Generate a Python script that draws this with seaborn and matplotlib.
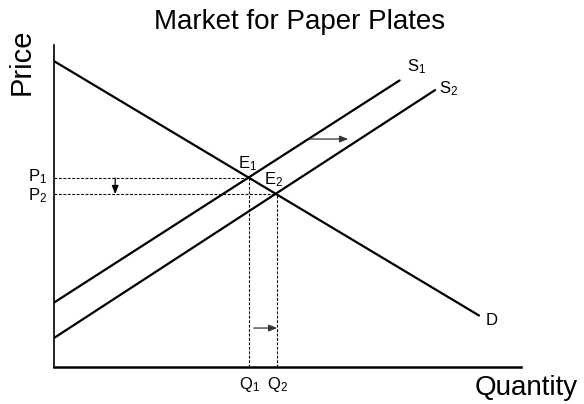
import matplotlib
matplotlib.use("Agg")
import matplotlib.pyplot as plt
import seaborn as sns
import pandas as pd

# curve end points (data units 0-100)
demand_x = [0, 91]
demand_y = [95, 16]
s1_x = [0, 74]
s1_y = [20, 89]
s2_x = [0, 81.6]
s2_y = [9, 86]

# equilibrium values
q1, q2 = 41.8, 47.8
p1, p2 = 58.7, 53.7

sns.set_style("white")
plt.rcParams['font.family'] = ['Liberation Sans', 'DejaVu Sans']
plt.rcParams['text.color'] = 'black'
plt.rcParams['mathtext.fontset'] = 'custom'
plt.rcParams['mathtext.rm'] = 'Liberation Sans'
plt.rcParams['mathtext.it'] = 'Liberation Sans'

fig = plt.figure(figsize=(5.84, 4.04), dpi=100)
ax = fig.add_axes([54/584, 1-367/404, 467/584, 322/404])

curves = pd.concat([
    pd.DataFrame({"x": demand_x, "y": demand_y, "curve": "D"}),
    pd.DataFrame({"x": s1_x, "y": s1_y, "curve": "S1"}),
    pd.DataFrame({"x": s2_x, "y": s2_y, "curve": "S2"}),
])
sns.lineplot(data=curves, x="x", y="y", units="curve", estimator=None,
             color="black", linewidth=1.6, ax=ax, legend=False)

# dashed guide lines
dash = dict(color="black", linewidth=0.8, linestyle=(0, (2.5, 1.5)))
ax.plot([0, q1], [p1, p1], **dash)
ax.plot([0, q2], [p2, p2], **dash)
ax.plot([q1, q1], [0, p1], **dash)
ax.plot([q2, q2], [0, p2], **dash)

# arrows
arr = dict(arrowstyle="-|>,head_length=0.5,head_width=0.2", color="black", lw=0.9,
           shrinkA=0, shrinkB=0)
ax.annotate("", xy=(13.1, p2), xytext=(13.1, p1), arrowprops=arr)
ax.annotate("", xy=(q2, 12.1), xytext=(42.8, 12.1), arrowprops=dict(arr, color="#333333"))
ax.annotate("", xy=(63, 70.8), xytext=(54.6, 70.8), arrowprops=dict(arr, color="#333333"))

# labels on the curves
fs = 12
ax.text(75.5, 90.5, r"S$_1$", fontsize=fs, ha="left", va="bottom")
ax.text(82.5, 83.5, r"S$_2$", fontsize=fs, ha="left", va="bottom")
ax.text(92.5, 14.5, "D", fontsize=fs, ha="left", va="center")
ax.text(39.3, 60.2, r"E$_1$", fontsize=fs, ha="left", va="bottom")
ax.text(45.0, 55.2, r"E$_2$", fontsize=fs, ha="left", va="bottom")
ax.text(-1.5, p1 + 0.5, r"P$_1$", fontsize=fs, ha="right", va="center")
ax.text(-1.5, p2 - 0.6, r"P$_2$", fontsize=fs, ha="right", va="center")
ax.text(q1, -2.5, r"Q$_1$", fontsize=fs, ha="center", va="top")
ax.text(q2, -2.5, r"Q$_2$", fontsize=fs, ha="center", va="top")

ax.set_xlim(0, 100)
ax.set_ylim(0, 100)
ax.set_xticks([])
ax.set_yticks([])
ax.set_xlabel("")
ax.set_ylabel("")
for side in ["top", "right"]:
    ax.spines[side].set_visible(False)
ax.spines["left"].set_linewidth(1.2)
ax.spines["bottom"].set_linewidth(1.8)
ax.spines["left"].set_color("black")
ax.spines["bottom"].set_color("black")

fig.text(300/584, 1-22/404, "Market for Paper Plates", fontsize=20, ha="center", va="center")
fig.text(22/584, 1-62/404, "Price", fontsize=21, rotation=90, ha="center", va="center")
fig.text(526/584, 1-388/404, "Quantity", fontsize=20, ha="center", va="center")

fig.savefig("out.png", dpi=100)
